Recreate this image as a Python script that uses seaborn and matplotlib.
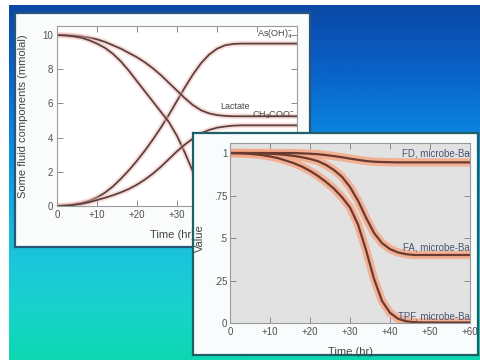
import numpy as np
import pandas as pd
import matplotlib
matplotlib.use("Agg")
import matplotlib.pyplot as plt
import seaborn as sns
from matplotlib.colors import LinearSegmentedColormap
from matplotlib.patches import Rectangle

# ---------------- data ----------------
hours = [0, 2, 4, 6, 8, 10, 12, 14, 16, 18, 20, 22, 24, 26, 28, 30,
         32, 34, 36, 38, 40, 42, 44, 46, 48, 50, 52, 54, 56, 58, 60]

# top panel (mmolal)
as_oh4 = [0, 0.03, 0.08, 0.17, 0.3, 0.5, 0.78, 1.15, 1.6, 2.1, 2.65, 3.25, 3.9, 4.6, 5.35, 6.15,
          6.95, 7.7, 8.35, 8.85, 9.2, 9.4, 9.48, 9.5, 9.5, 9.5, 9.5, 9.5, 9.5, 9.5, 9.5]
lactate = [10, 9.99, 9.97, 9.93, 9.85, 9.75, 9.6, 9.4, 9.2, 8.95, 8.7, 8.4, 8.05, 7.65, 7.2, 6.75,
           6.3, 5.9, 5.6, 5.42, 5.32, 5.27, 5.25, 5.25, 5.25, 5.25, 5.25, 5.25, 5.25, 5.25, 5.25]
comp_b = [10, 9.98, 9.93, 9.85, 9.7, 9.5, 9.25, 8.9, 8.45, 7.9, 7.3, 6.7, 6.1, 5.5, 4.9, 4.1,
          3.1, 2.0, 1.1, 0.5, 0.2, 0.08, 0.03, 0, 0, 0, 0, 0, 0, 0, 0]
ch3coo = [0, 0.02, 0.06, 0.12, 0.22, 0.35, 0.48, 0.63, 0.8, 1.0, 1.25, 1.55, 1.9, 2.3, 2.75, 3.2,
          3.6, 3.95, 4.25, 4.45, 4.58, 4.65, 4.7, 4.72, 4.72, 4.72, 4.72, 4.72, 4.72, 4.72, 4.72]

# bottom panel (value)
fd = [1, 1, 1, 1, 1, 1, 1, 1, 1, 0.998, 0.996, 0.993, 0.988, 0.982, 0.975, 0.967,
      0.96, 0.953, 0.949, 0.947, 0.946, 0.945, 0.945, 0.945, 0.945, 0.945, 0.945, 0.945, 0.945, 0.945, 0.945]
fa = [1, 1, 1, 0.999, 0.998, 0.996, 0.993, 0.989, 0.983, 0.975, 0.965, 0.952, 0.93, 0.9, 0.86, 0.8,
      0.72, 0.62, 0.53, 0.47, 0.435, 0.415, 0.405, 0.4, 0.4, 0.4, 0.4, 0.4, 0.4, 0.4, 0.4]
tpf = [1, 0.999, 0.997, 0.993, 0.988, 0.98, 0.97, 0.955, 0.94, 0.92, 0.895, 0.865, 0.83, 0.79, 0.74, 0.68,
       0.58, 0.43, 0.26, 0.13, 0.06, 0.025, 0.01, 0.005, 0.003, 0.003, 0.003, 0.003, 0.003, 0.003, 0.003]

x_ticks = [0, 10, 20, 30, 40, 50, 60]
x_tick_labels = ["0", "+10", "+20", "+30", "+40", "+50", "+60"]
y1_ticks = [0, 2, 4, 6, 8, 10]
y1_tick_labels = ["0", "2", "4", "6", "8", "10"]
y2_ticks = [0, 0.25, 0.5, 0.75, 1]
y2_tick_labels = ["0", ".25", ".5", ".75", "1"]

# ---------------- style ----------------
sns.set_style("ticks")
plt.rcParams['font.family'] = ['Liberation Sans', 'DejaVu Sans']
plt.rcParams['mathtext.fontset'] = 'custom'
plt.rcParams['mathtext.rm'] = 'Liberation Sans'
plt.rcParams['mathtext.it'] = 'Liberation Sans:italic'

W, H = 480, 360
fig = plt.figure(figsize=(4.8, 3.6), dpi=100)
fig.patch.set_facecolor('white')


def fax(l, t, r, b):
    return [l / W, 1 - b / H, (r - l) / W, (b - t) / H]


# gradient background
bg = fig.add_axes([0, 0, 1, 1])
bg.set_xlim(0, W)
bg.set_ylim(H, 0)
bg.axis('off')
cmap = LinearSegmentedColormap.from_list(
    'bg', [(0.0, '#0b49a6'), (0.15, '#0a5cc2'), (0.35, '#0a82de'),
           (0.55, '#14a9de'), (0.72, '#1bc6da'), (0.86, '#18d3cc'), (1.0, '#0cd8b0')])
grad = np.linspace(0, 1, 256).reshape(-1, 1)
bg.imshow(grad, extent=(9, W, H, 5), aspect='auto', cmap=cmap, origin='upper')


def card(l, t, r, b, face, edge):
    c = fig.add_axes(fax(l, t, r, b))
    c.set_facecolor(face)
    c.set_xticks([])
    c.set_yticks([])
    for s in c.spines.values():
        s.set_color(edge)
        s.set_linewidth(1.6)
    return c


def style_axes(ax):
    ax.tick_params(direction='in', length=4, width=0.7, color='#8a8a8a',
                   labelcolor='#505050', labelsize=7, top=True, right=True, pad=3)
    for s in ax.spines.values():
        s.set_color('#9a9a9a')
        s.set_linewidth(0.8)
    ax.set_xlim(0, 60)
    ax.set_xticks(x_ticks)
    ax.set_xticklabels(x_tick_labels)


# ---------------- panel 1 ----------------
card(15, 13, 310, 247, '#fafcfc', '#27567a')
ax1 = fig.add_axes(fax(57, 26, 297, 206))
ax1.set_facecolor('white')
for series in [as_oh4, lactate, comp_b, ch3coo]:
    sns.lineplot(x=hours, y=series, ax=ax1, color='#f2b6ae', lw=4, alpha=0.45)
    sns.lineplot(x=hours, y=series, ax=ax1, color='#5b4242', lw=1.3)
style_axes(ax1)
ax1.set_ylim(0, 10.53)
ax1.set_yticks(y1_ticks)
ax1.set_yticklabels(y1_tick_labels)
ax1.set_xlabel("Time (hr)", fontsize=8, color='#444444')
ax1.set_ylabel("Some fluid components (mmolal)", fontsize=8, color='#444444')
ax1.xaxis.set_label_coords(0.483, -0.135)
ax1.yaxis.set_label_coords(-0.121, 0.5)
ax1.text(58.8, 10.05, "As(OH)$_4^{-}$", ha='right', va='center', fontsize=6.5, color='#444444')
ax1.text(40.8, 5.8, "Lactate", ha='left', va='center', fontsize=6.5, color='#444444')
ax1.text(48.7, 5.28, "CH$_3$COO$^{-}$", ha='left', va='center', fontsize=6.5, color='#444444')

# ---------------- panel 2 ----------------
card(193, 133, 478, 355, '#f8fcfd', '#1f6068')
ax2 = fig.add_axes(fax(230, 143, 470, 323))
ax2.set_facecolor('#e2e2e2')
for series in [fd, fa, tpf]:
    sns.lineplot(x=hours, y=series, ax=ax2, color='#f6a887', lw=6, alpha=0.85)
for series in [fd, fa, tpf]:
    sns.lineplot(x=hours, y=series, ax=ax2, color='#6a3a30', lw=1.6)
style_axes(ax2)
ax2.tick_params(axis='y', pad=2)
ax2.set_ylim(0, 1.059)
ax2.set_yticks(y2_ticks)
ax2.set_yticklabels(y2_tick_labels)
ax2.set_xlabel("Time (hr)", fontsize=8, color='#444444')
ax2.set_ylabel("Value", fontsize=8, color='#444444')
ax2.xaxis.set_label_coords(0.5, -0.135)
ax2.yaxis.set_label_coords(-0.105, 0.47)
ax2.text(60, 1.0, "FD, microbe-Ba", ha='right', va='center', fontsize=7, color='#4a5572')
ax2.text(60, 0.445, "FA, microbe-Ba", ha='right', va='center', fontsize=7, color='#4a5572')
ax2.text(60, 0.04, "TPF, microbe-Ba", ha='right', va='center', fontsize=7, color='#4a5572')

fig.savefig("out.png", dpi=100)
